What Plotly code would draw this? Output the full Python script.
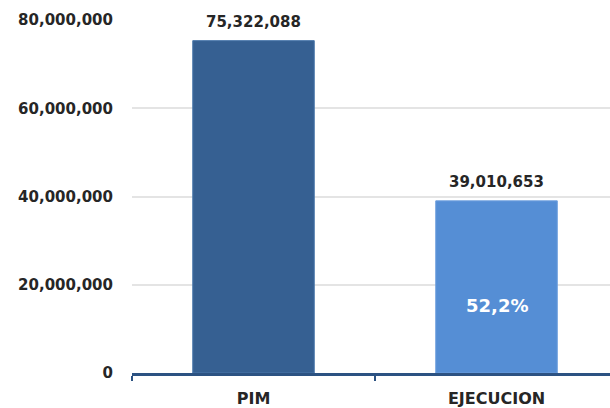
import plotly.graph_objects as go

categories = ["PIM", "EJECUCION"]
values = [75322088, 39010653]
value_labels = ["75,322,088", "39,010,653"]
bar_colors = ["#366092", "#558ED5"]
pct_label = "52,2%"
pct_y = 15200000
y_ticks = [0, 20000000, 40000000, 60000000, 80000000]
y_tick_labels = ["0", "20,000,000", "40,000,000", "60,000,000", "80,000,000"]

FONT = "DejaVu Sans"

fig = go.Figure()
fig.add_trace(go.Bar(
    x=categories, y=values, width=0.5,
    marker=dict(color=bar_colors, line=dict(color=["#4a77ab", "#6d9edd"], width=1)),
    hoverinfo="skip",
))

for c, v, t in zip(categories, values, value_labels):
    fig.add_annotation(x=c, y=v, text="<b>%s</b>" % t, showarrow=False,
                       yanchor="middle", yshift=19,
                       font=dict(family=FONT, size=15, color="#262626"))

fig.add_annotation(x=categories[1], y=pct_y, text="<b>%s</b>" % pct_label, showarrow=False,
                   yanchor="middle", font=dict(family=FONT, size=18, color="white"))

fig.update_layout(
    width=610, height=408,
    margin=dict(l=132, r=0, t=20, b=35),
    paper_bgcolor="white", plot_bgcolor="white",
    showlegend=False,
    bargap=0.5,
    xaxis=dict(
        type="category", range=[-0.5, 1.467],
        showline=True, linecolor="#2c5282", linewidth=2.5,
        ticks="outside", tickson="boundaries", ticklen=5, tickwidth=2, tickcolor="#2c5282",
        tickfont=dict(family=FONT, size=16, color="#262626"),
        tickprefix="<b>", ticksuffix="</b>",
        ticklabelstandoff=9,
        showgrid=False, fixedrange=True, automargin=False,
    ),
    yaxis=dict(
        range=[0, 80000000],
        tickvals=y_ticks, ticktext=["<b>%s</b>" % s for s in y_tick_labels],
        tickfont=dict(family=FONT, size=15, color="#262626"),
        showgrid=True, gridcolor="#e4e4e4", gridwidth=2,
        zeroline=False, showline=False, ticks="",
        ticklabelstandoff=18,
        fixedrange=True, automargin=False,
    ),
)

fig.write_html("out.html", config={"displayModeBar": False},
               post_script="document.body.style.margin='0';document.body.style.overflow='hidden';")
